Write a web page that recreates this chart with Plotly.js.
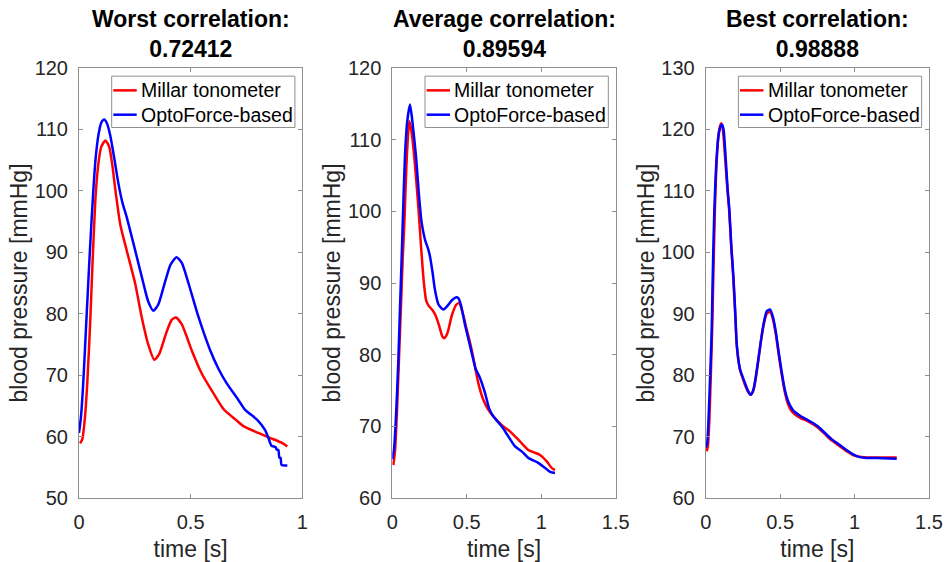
<!DOCTYPE html>
<html>
<head>
<meta charset="utf-8">
<script src="https://cdn.plot.ly/plotly-3.0.1.min.js"></script>
<style>html,body{margin:0;padding:0;background:#fff;}#chart{width:948px;height:562px;}</style>
</head>
<body>
<div id="chart"></div>
<script>
// ---------- DATA ----------
const seriesNames = ['Millar tonometer', 'OptoForce-based'];
const panelTitles = ['Worst correlation:', 'Average correlation:', 'Best correlation:'];
const corrValues = ['0.72412', '0.89594', '0.98888'];

// Panel 1 (worst)
const t1_millar = [0.005,0.015,0.027,0.037,0.05,0.062,0.075,0.088,0.10,0.118,0.135,0.15,0.161,0.185,0.213,0.251,0.28,0.31,0.337,0.36,0.39,0.415,0.434,0.46,0.504,0.549,0.601,0.649,0.70,0.736,0.803,0.855,0.907,0.933];
const p1_millar = [58.9,59.6,63.3,68.7,78.5,89.5,99.5,104.8,107.2,108.2,107.2,104,100.7,94.5,90.4,85,79.6,75,72.5,73.5,76.8,79,79.4,78.3,74.1,70.3,67.1,64.4,62.8,61.7,60.6,59.8,59.0,58.4];
const t1_opto = [0,0.009,0.019,0.034,0.049,0.064,0.075,0.088,0.1,0.113,0.125,0.14,0.158,0.176,0.195,0.213,0.251,0.288,0.31,0.333,0.355,0.38,0.41,0.437,0.46,0.49,0.534,0.587,0.625,0.661,0.713,0.743,0.796,0.833,0.848,0.862,0.88,0.885,0.893,0.897,0.903,0.907,0.933];
const p1_opto = [60.6,63.3,68.7,79.6,90.4,100,105.5,109.3,111.1,111.6,111,109,105.3,101.3,98,95.8,90.4,85,82,80.5,81.5,84.5,88,89.2,88.3,85,79.6,74.1,71,68.7,66,64.4,62.8,61.1,59.8,58.5,58.3,57.9,57.8,56.6,56.5,55.4,55.3];

// Panel 2 (average)
const t2_millar = [0.007,0.018,0.03,0.045,0.058,0.07,0.081,0.095,0.105,0.114,0.13,0.152,0.175,0.195,0.212,0.228,0.245,0.27,0.29,0.315,0.335,0.349,0.37,0.40,0.43,0.45,0.47,0.50,0.533,0.578,0.611,0.645,0.678,0.734,0.79,0.857,0.913,0.96,0.992,1.037,1.07,1.092];
const p2_millar = [64.6,66.5,71.4,79.5,86.7,93.5,98.4,106.5,110.5,112.6,111,106.5,100.5,94.5,90,87.5,86.8,86.2,85.5,84,82.6,82.3,83,85.5,87,87.2,86,83.5,80.7,76,73.7,72.3,71.4,70.2,69.3,67.9,66.7,66.3,66.0,65.1,64.2,63.9];
const t2_opto = [0,0.012,0.025,0.04,0.052,0.062,0.07,0.085,0.1,0.119,0.135,0.159,0.178,0.197,0.22,0.24,0.253,0.27,0.286,0.31,0.343,0.37,0.40,0.43,0.443,0.46,0.49,0.528,0.56,0.584,0.622,0.65,0.678,0.734,0.779,0.824,0.869,0.913,0.98,1.037,1.065,1.092];
const p2_opto = [65.4,67,71.5,79,86.7,93,98.4,107.7,112.5,114.9,112.5,107.7,102.5,98.4,96,94.8,93.7,91.5,89.1,87,86.3,86.8,87.6,88,87.9,87,84,80.7,78,77,74.7,72.5,71.4,70,68.6,67.2,66.5,65.6,64.9,64,63.6,63.5];

// Panel 3 (best)
const t3_millar = [0.007,0.015,0.025,0.035,0.044,0.052,0.062,0.073,0.088,0.103,0.115,0.13,0.145,0.157,0.17,0.184,0.198,0.208,0.219,0.231,0.25,0.264,0.285,0.302,0.32,0.335,0.353,0.37,0.39,0.41,0.432,0.45,0.47,0.49,0.51,0.53,0.55,0.57,0.59,0.611,0.645,0.678,0.72,0.757,0.813,0.85,0.891,0.947,0.99,1.03,1.081,1.15,1.283];
const p3_millar = [67.6,68.5,73,80.5,88,97,107,114.5,119.5,121.0,120,115.5,110.5,107,101.5,96.3,90,85,82.6,80.8,79.4,78.4,77.3,76.8,77.5,79.3,82.3,85.3,88.3,90.0,90.3,89.3,86.8,83.4,80.2,77.4,75.5,74.4,73.8,73.4,72.9,72.6,72.0,71.4,70.1,69.3,68.6,67.6,67.0,66.7,66.6,66.6,66.6];
const t3_opto = [0,0.01,0.02,0.03,0.04,0.047,0.058,0.07,0.085,0.1,0.109,0.12,0.135,0.148,0.159,0.172,0.186,0.2,0.208,0.219,0.231,0.25,0.264,0.285,0.302,0.32,0.335,0.353,0.37,0.39,0.41,0.432,0.45,0.47,0.49,0.51,0.53,0.55,0.57,0.59,0.611,0.645,0.678,0.72,0.757,0.813,0.85,0.891,0.947,0.99,1.03,1.081,1.15,1.283];
const p3_opto = [68.2,69,73.5,80,87,96,106.9,114,118.8,120.5,120.8,120,115,110,106.9,101,96.1,89.5,85.2,82.5,80.9,79.6,78.7,77.4,76.8,77.6,79.5,82.5,85.5,88.5,90.4,90.7,89.6,87.2,83.8,80.6,77.8,76.0,74.9,74.2,73.8,73.2,72.8,72.2,71.6,70.3,69.5,68.8,67.8,67.1,66.7,66.5,66.5,66.4];

// Axes
const xRanges = [[0,1],[0,1.5],[0,1.5]];
const yRanges = [[50,120],[60,120],[60,130]];
const xTickVals = [[0,0.5,1],[0,0.5,1,1.5],[0,0.5,1,1.5]];
const yTickVals = [[50,60,70,80,90,100,110,120],[60,70,80,90,100,110,120],[60,70,80,90,100,110,120,130]];
const xLabel = 'time [s]';
const yLabel = 'blood pressure [mmHg]';
const seriesColors = ['#ff0000', '#0000ff'];

// ---------- BUILD ----------
const panels = [
  [[t1_millar, p1_millar], [t1_opto, p1_opto]],
  [[t2_millar, p2_millar], [t2_opto, p2_opto]],
  [[t3_millar, p3_millar], [t3_opto, p3_opto]]
];
const FONT = 'Liberation Sans, Arial, Helvetica, sans-serif';
const AXCOL = '#8f8f8f';
const TXT = '#262626';
const domains = [[0, 0.2627], [0.3686, 0.6314], [0.7373, 1]];

const traces = [];
panels.forEach((pan, i) => {
  const sfx = i === 0 ? '' : String(i + 1);
  pan.forEach((s, j) => {
    traces.push({
      x: s[0], y: s[1], type: 'scatter', mode: 'lines',
      name: seriesNames[j], showlegend: false,
      line: {color: seriesColors[j], width: 2.5, shape: 'spline', smoothing: 0.6},
      xaxis: 'x' + sfx, yaxis: 'y' + sfx, hoverinfo: 'skip'
    });
  });
});

const layout = {
  width: 948, height: 562,
  margin: {l: 79, r: 19, t: 68, b: 64, pad: 0},
  paper_bgcolor: '#ffffff', plot_bgcolor: '#ffffff',
  font: {family: FONT, color: TXT},
  showlegend: false,
  annotations: [], shapes: []
};

for (let i = 0; i < 3; i++) {
  const sfx = i === 0 ? '' : String(i + 1);
  layout['xaxis' + sfx] = {
    domain: domains[i], anchor: 'y' + sfx, range: xRanges[i],
    tickvals: xTickVals[i], ticks: 'inside', ticklen: 4, tickcolor: AXCOL,
    showline: true, linecolor: AXCOL, linewidth: 1, mirror: 'ticks',
    showgrid: false, zeroline: false, ticklabelstandoff: 6,
    tickfont: {family: FONT, size: 20, color: TXT},
    title: {text: xLabel, font: {family: FONT, size: 23, color: TXT}, standoff: 12}
  };
  layout['yaxis' + sfx] = {
    domain: [0, 1], anchor: 'x' + sfx, range: yRanges[i],
    tickvals: yTickVals[i], ticks: 'inside', ticklen: 4, tickcolor: AXCOL,
    showline: true, linecolor: AXCOL, linewidth: 1, mirror: 'ticks',
    showgrid: false, zeroline: false, ticklabelstandoff: 6,
    tickfont: {family: FONT, size: 20, color: TXT},
    title: {text: yLabel, font: {family: FONT, size: 23, color: TXT}, standoff: 0}
  };
  // panel title
  layout.annotations.push({
    xref: 'x' + sfx + ' domain', yref: 'paper', x: 0.5, y: 1,
    xanchor: 'center', yanchor: 'bottom', yshift: 4, showarrow: false,
    text: '<b>' + panelTitles[i] + '</b><br><b>' + corrValues[i] + '</b>',
    font: {family: FONT, size: 23, color: '#000000'}
  });
  // legend box
  const xr = 'x' + sfx + ' domain', yr = 'y' + sfx + ' domain';
  layout.shapes.push({type: 'rect', xref: xr, yref: yr, x0: 0.1464, x1: 0.967, y0: 0.8616, y1: 0.981,
    line: {color: AXCOL, width: 1}, fillcolor: '#ffffff', layer: 'above'});
  const rows = [0.948, 0.8914];
  for (let j = 0; j < 2; j++) {
    layout.shapes.push({type: 'line', xref: xr, yref: yr, x0: 0.1536, x1: 0.2584, y0: rows[j], y1: rows[j],
      line: {color: seriesColors[j], width: 2.5}, layer: 'above'});
    layout.annotations.push({xref: xr, yref: yr, x: 0.268, y: rows[j], xanchor: 'left', yanchor: 'middle',
      showarrow: false, text: seriesNames[j], font: {family: FONT, size: 19.5, color: '#000000'}});
  }
}

Plotly.newPlot('chart', traces, layout, {staticPlot: true, displayModeBar: false});
</script>
</body>
</html>
